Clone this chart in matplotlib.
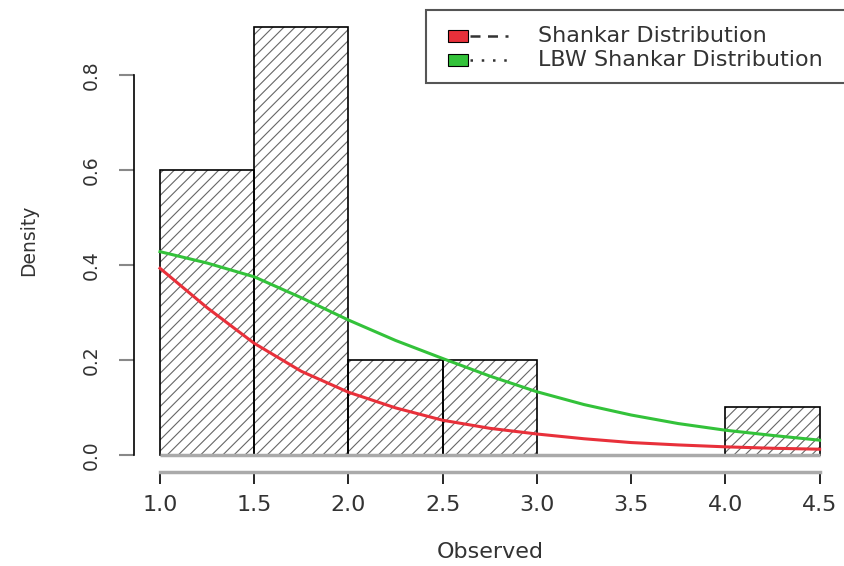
import numpy as np
import matplotlib
matplotlib.use("Agg")
import matplotlib.pyplot as plt
import matplotlib.patches as patches
from matplotlib.lines import Line2D

plt.rcParams['font.family'] = ['DejaVu Sans']
plt.rcParams['hatch.linewidth'] = 0.8

# histogram of observed data (density scale)
bin_edges = [1.0, 1.5, 2.0, 2.5, 3.0, 3.5, 4.0, 4.5]
density = [0.6, 0.9, 0.2, 0.2, 0.0, 0.0, 0.1]

# fitted densities
x_curve = [1.0, 1.25, 1.5, 1.75, 2.0, 2.25, 2.5, 2.75, 3.0, 3.25, 3.5, 3.75, 4.0, 4.25, 4.5]
shankar = [0.393, 0.310, 0.235, 0.176, 0.132, 0.099, 0.073, 0.056, 0.044,
           0.034, 0.026, 0.021, 0.017, 0.014, 0.012]
lbw_shankar = [0.428, 0.404, 0.375, 0.331, 0.284, 0.241, 0.203, 0.166, 0.133,
               0.106, 0.084, 0.066, 0.052, 0.041, 0.031]

x_ticks = [1.0, 1.5, 2.0, 2.5, 3.0, 3.5, 4.0, 4.5]
y_ticks = [0.0, 0.2, 0.4, 0.6, 0.8]
legend_labels = ["Shankar Distribution", "LBW Shankar Distribution"]
legend_colors = ["#e8303a", "#33c23a"]
legend_styles = [(0, (4, 3)), (0, (1, 3.5))]

W, H = 844, 566


def fx(px):
    return px / W


def fy(py):
    return 1 - py / H


fig = plt.figure(figsize=(W / 100, H / 100), dpi=100, facecolor='w')
ax = fig.add_axes([fx(133.6), fy(472), (846 - 133.6) / W, (472 - 10.4) / H])
ax.set_xlim(0.86, 4.64)
ax.set_ylim(-0.036, 0.936)

lefts = np.array(bin_edges[:-1])
widths = np.diff(bin_edges)
# hatching (grey) and bar outlines (black) as two layers
ax.bar(lefts, density, width=widths, align='edge', fill=False,
       hatch='///', edgecolor='#666666', linewidth=0, zorder=1)
ax.bar(lefts, density, width=widths, align='edge', fill=False,
       edgecolor='black', linewidth=1.2, zorder=2)
ax.hlines(0, bin_edges[0], bin_edges[-1], color='#aaaaaa', linewidth=2.5, zorder=3)

ax.plot(x_curve, shankar, color=legend_colors[0], linewidth=2.2, zorder=4)
ax.plot(x_curve, lbw_shankar, color=legend_colors[1], linewidth=2.2, zorder=4)

for s in ['top', 'right']:
    ax.spines[s].set_visible(False)
ax.spines['left'].set_bounds(0, 0.8)
ax.spines['left'].set_linewidth(1.2)
ax.spines['bottom'].set_bounds(1.0, 4.5)
ax.spines['bottom'].set_color('#aaaaaa')
ax.spines['bottom'].set_linewidth(2.5)

ax.set_xticks(x_ticks)
ax.set_xticklabels(["%.1f" % v for v in x_ticks])
ax.set_yticks(y_ticks)
ax.set_yticklabels(["%.1f" % v for v in y_ticks], rotation=90, va='center')
ax.tick_params(axis='x', length=8.6, width=1.2, color='black', pad=8,
               labelsize=16, labelcolor='#333333')
ax.tick_params(axis='y', length=10.8, width=1.5, color='#888888', pad=13,
               labelsize=13.5, labelcolor='#333333')

ax.set_xlabel("Observed", fontsize=16, color='#333333')
ax.xaxis.set_label_coords(0.5003, (472 - 542) / 461.6)
ax.set_ylabel("Density", fontsize=13.5, color='#333333')
ax.yaxis.set_label_coords((38 - 133.6) / 712.4, (472 - 240) / 461.6)

# legend box, drawn by hand in R style
frame = patches.Rectangle((fx(426), fy(83)), fx(440), 73 / H, transform=fig.transFigure,
                          facecolor='white', edgecolor='#555555', linewidth=1.5,
                          clip_on=False, zorder=10)
fig.add_artist(frame)
for i, (lab, col, ls) in enumerate(zip(legend_labels, legend_colors, legend_styles)):
    yc = 36 + 24 * i
    fig.add_artist(patches.Rectangle((fx(448), fy(yc + 6)), fx(20), 12 / H,
                                     transform=fig.transFigure, facecolor=col,
                                     edgecolor='black', linewidth=0.8, zorder=11))
    fig.add_artist(Line2D([fx(470), fx(508)], [fy(yc), fy(yc)], transform=fig.transFigure,
                          color='#333333', linestyle=ls, linewidth=1.8, zorder=11))
    fig.text(fx(538), fy(yc), lab, fontsize=16, color='#333333', va='center', ha='left',
             zorder=12)

fig.savefig("out.png", dpi=100)
